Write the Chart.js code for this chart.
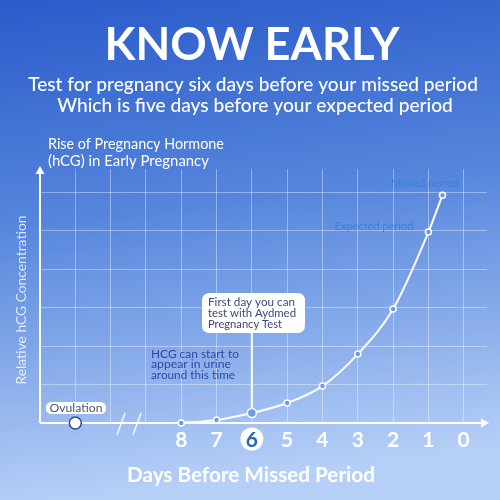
<!DOCTYPE html>
<html><head><meta charset="utf-8">
<script src="https://cdn.jsdelivr.net/npm/chart.js@4.4.0/dist/chart.umd.min.js"></script>
<style>html,body{margin:0;padding:0;background:#2a5bca}#wrap{width:500px;height:500px;position:relative}canvas{display:block}</style>
</head><body><div id="wrap"><canvas id="c" width="500" height="500"></canvas></div>
<script>
// ---- data ----
const dayValues = [8, 7, 6, 5, 4, 3, 2, 1, 0.6];
const hcgLevels = [0, 0.08, 0.26, 0.52, 0.96, 1.79, 2.96, 4.96, 5.92];
const tickDays = [8, 7, 6, 5, 4, 3, 2, 1, 0];
const tickLabels = ['8', '7', '6', '5', '4', '3', '2', '1', '0'];
const gridDays = [11, 10, 9, 8, 7, 6, 5, 4, 3, 2, 1, 0];
const gridLevels = [1, 2, 3, 4, 5, 6];
const ovulationDay = 11;
const ovulationLevel = 0;
const testDay = 6;

const FONT = 'Lato, "Noto Sans", sans-serif';

function fitSize(ctx, text, weight, targetW, base) {
  ctx.font = weight + ' ' + base + 'px ' + FONT;
  const w = ctx.measureText(text).width;
  return base * targetW / w;
}
function drawFit(ctx, text, weight, cx, cy, targetW, color, align) {
  const s = fitSize(ctx, text, weight, targetW, 20);
  ctx.font = weight + ' ' + s.toFixed(2) + 'px ' + FONT;
  ctx.fillStyle = color;
  ctx.textAlign = align || 'center';
  ctx.textBaseline = 'middle';
  ctx.fillText(text, cx, cy);
}
function roundRect(ctx, x, y, w, h, r) {
  ctx.beginPath();
  ctx.moveTo(x + r, y);
  ctx.lineTo(x + w - r, y); ctx.quadraticCurveTo(x + w, y, x + w, y + r);
  ctx.lineTo(x + w, y + h - r); ctx.quadraticCurveTo(x + w, y + h, x + w - r, y + h);
  ctx.lineTo(x + r, y + h); ctx.quadraticCurveTo(x, y + h, x, y + h - r);
  ctx.lineTo(x, y + r); ctx.quadraticCurveTo(x, y, x + r, y);
  ctx.closePath();
}

const decor = {
  id: 'decor',
  beforeDraw(chart) {
    const ctx = chart.ctx;
    ctx.save();
    const g = ctx.createLinearGradient(0, 0, 60, 500);
    g.addColorStop(0, '#2a5bca');
    g.addColorStop(0.45, '#5686dc');
    g.addColorStop(1, '#b6cff7');
    ctx.fillStyle = g;
    ctx.fillRect(0, 0, 500, 500);
    drawFit(ctx, 'KNOW EARLY', 'bold', 252, 45, 295, '#ffffff');
    drawFit(ctx, 'Test for pregnancy six days before your missed period', '500', 253, 85, 450, '#ffffff');
    drawFit(ctx, 'Which is five days before your expected period', '500', 255, 106, 396, '#ffffff');
    drawFit(ctx, 'Rise of Pregnancy Hormone', 'normal', 48, 144, 176, '#ffffff', 'left');
    drawFit(ctx, '(hCG) in Early Pregnancy', 'normal', 48, 161, 161, '#ffffff', 'left');
    ctx.save();
    ctx.translate(22, 300);
    ctx.rotate(-Math.PI / 2);
    drawFit(ctx, 'Relative hCG Concentration', 'normal', 0, 0, 169, 'rgba(255,255,255,0.78)');
    ctx.restore();
    drawFit(ctx, 'Days Before Missed Period', 'bold', 251, 475, 248, '#ffffff');
    ctx.restore();
  },
  beforeDatasetsDraw(chart) {
    const ctx = chart.ctx;
    const a = chart.chartArea;
    const xs = chart.scales.x, ys = chart.scales.y;
    ctx.save();
    ctx.strokeStyle = '#ffffff';
    ctx.fillStyle = '#ffffff';
    ctx.lineWidth = 2;
    ctx.beginPath(); ctx.moveTo(a.left, a.bottom); ctx.lineTo(a.left, a.top + 4); ctx.stroke();
    ctx.beginPath(); ctx.moveTo(a.left, a.top - 3); ctx.lineTo(a.left - 4.5, a.top + 5); ctx.lineTo(a.left + 4.5, a.top + 5); ctx.closePath(); ctx.fill();
    ctx.beginPath(); ctx.moveTo(a.left, a.bottom); ctx.lineTo(a.right - 4, a.bottom); ctx.stroke();
    ctx.beginPath(); ctx.moveTo(a.right + 2, a.bottom); ctx.lineTo(a.right - 6, a.bottom - 4.5); ctx.lineTo(a.right - 6, a.bottom + 4.5); ctx.closePath(); ctx.fill();
    ctx.lineWidth = 1.5;
    ctx.strokeStyle = 'rgba(255,255,255,0.9)';
    ctx.beginPath(); ctx.moveTo(117, 435); ctx.lineTo(125, 413); ctx.stroke();
    ctx.beginPath(); ctx.moveTo(133, 435); ctx.lineTo(141, 413); ctx.stroke();
    const tx = xs.getPixelForValue(testDay);
    const ty = ys.getPixelForValue(hcgLevels[dayValues.indexOf(testDay)]);
    ctx.strokeStyle = '#ffffff';
    ctx.lineWidth = 2;
    ctx.beginPath(); ctx.moveTo(tx, 333); ctx.lineTo(tx, ty); ctx.stroke();
    const by = a.bottom + 16;
    tickDays.forEach((d, i) => {
      const px = xs.getPixelForValue(d);
      if (d === testDay) {
        ctx.beginPath(); ctx.arc(px, by, 11.5, 0, Math.PI * 2); ctx.fillStyle = '#ffffff'; ctx.fill();
        ctx.fillStyle = '#2a64b8';
      } else {
        ctx.fillStyle = '#ffffff';
      }
      ctx.font = 'bold 21px ' + FONT;
      ctx.textAlign = 'center'; ctx.textBaseline = 'middle';
      ctx.fillText(tickLabels[i], px, by + 1);
    });
    ctx.font = '11px ' + FONT;
    ctx.fillStyle = 'rgba(50,130,220,0.9)';
    ctx.textAlign = 'center';
    ctx.fillText('Missed period', 425, 183);
    ctx.fillText('Expected period', 374, 226);
    ctx.restore();
  },
  afterDatasetsDraw(chart) {
    const ctx = chart.ctx;
    ctx.save();
    roundRect(ctx, 202, 293, 103, 40, 8);
    ctx.fillStyle = '#ffffff'; ctx.fill();
    drawFit(ctx, 'First day you can', 'normal', 208, 302, 87, '#3b4a78', 'left');
    drawFit(ctx, 'test with Aydmed', 'normal', 208, 313, 88, '#3b4a78', 'left');
    drawFit(ctx, 'Pregnancy Test', 'normal', 208, 324, 74, '#3b4a78', 'left');
    drawFit(ctx, 'HCG can start to', 'normal', 151, 354, 88, '#2b49a8', 'left');
    drawFit(ctx, 'appear in urine', 'normal', 151, 364.5, 80, '#2b49a8', 'left');
    drawFit(ctx, 'around this time', 'normal', 151, 375, 84, '#2b49a8', 'left');
    roundRect(ctx, 46, 402, 60, 12, 6);
    ctx.fillStyle = '#ffffff'; ctx.fill();
    drawFit(ctx, 'Ovulation', 'normal', 76, 408, 53, '#4b5680');
    ctx.restore();
  }
};

new Chart(document.getElementById('c'), {
  type: 'scatter',
  data: {
    datasets: [
      {
        label: 'hCG',
        data: dayValues.map((d, i) => ({ x: d, y: hcgLevels[i] })),
        showLine: true,
        borderColor: '#ffffff',
        borderWidth: 2,
        cubicInterpolationMode: 'monotone',
        pointRadius: c => (dayValues[c.dataIndex] === testDay ? 4.5 : 3),
        pointBackgroundColor: '#6f9be6',
        pointBorderColor: '#ffffff',
        pointBorderWidth: 1.5,
        clip: false
      },
      {
        label: 'Ovulation',
        data: [{ x: ovulationDay, y: ovulationLevel }],
        pointRadius: 6,
        pointBackgroundColor: '#ffffff',
        pointBorderColor: '#2b4c9b',
        pointBorderWidth: 1.5,
        clip: false
      }
    ]
  },
  options: {
    responsive: false,
    animation: false,
    devicePixelRatio: 1,
    layout: { padding: { left: 40, right: 13, top: 169, bottom: 77 } },
    plugins: { legend: { display: false }, tooltip: { enabled: false }, title: { display: false } },
    scales: {
      x: {
        type: 'linear', reverse: true, min: -0.66, max: 12,
        afterBuildTicks: s => { s.ticks = gridDays.map(v => ({ value: v })); },
        ticks: { display: false },
        grid: { color: 'rgba(255,255,255,0.38)', lineWidth: 1, drawTicks: false },
        border: { display: false }
      },
      y: {
        type: 'linear', min: 0, max: 6.6,
        afterBuildTicks: s => { s.ticks = gridLevels.map(v => ({ value: v })); },
        ticks: { display: false },
        grid: { color: 'rgba(255,255,255,0.38)', lineWidth: 1, drawTicks: false },
        border: { display: false }
      }
    }
  },
  plugins: [decor]
});
</script>
</body></html>
